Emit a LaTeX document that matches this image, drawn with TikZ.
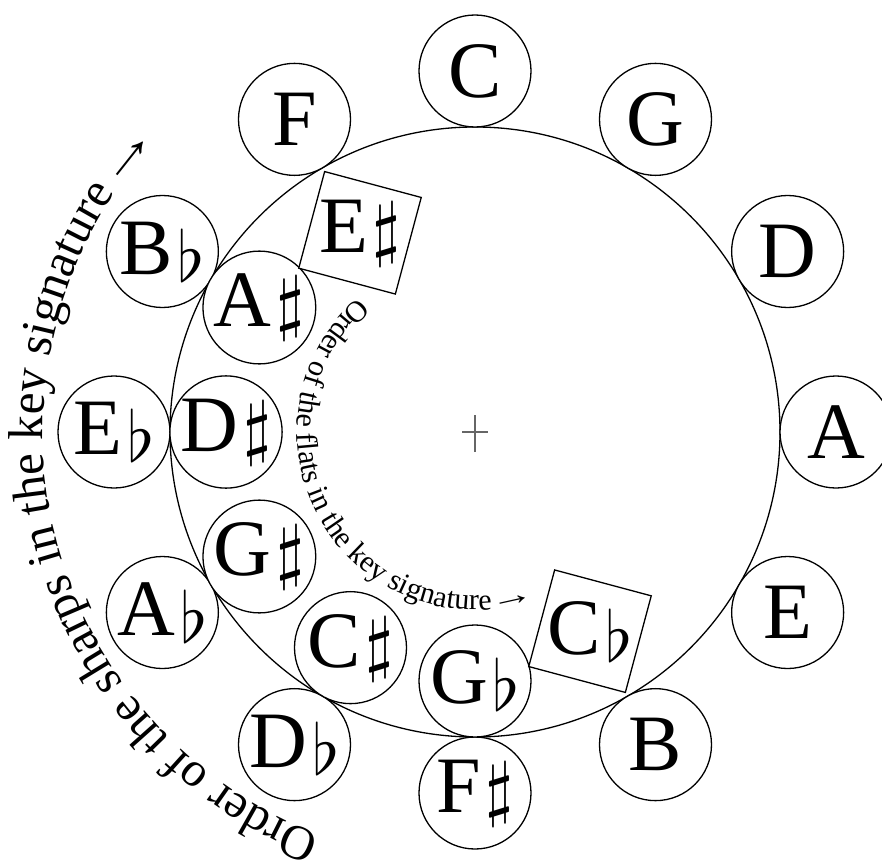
\documentclass[tikz,border=0pt]{standalone}
\usepackage{fontspec}
\setmainfont{Liberation Serif}
\usepackage{tikz}
\usetikzlibrary{decorations.text}

\newcommand{\acsharp}{\kern5pt{\fontsize{10}{12}\selectfont\scalebox{7.2}{$\sharp$}}}
\newcommand{\acflat}{\kern5pt\raisebox{-7pt}{\fontsize{10}{12}\selectfont\scalebox{7}{$\flat$}}}

\begin{document}
\begin{tikzpicture}[
  x=1pt, y=1pt,
  ring/.style={draw, circle, minimum size=610pt, inner sep=0pt, line width=1.3pt},
  note/.style={draw, circle, fill=white, minimum size=112pt, inner sep=0pt,
               line width=1.3pt, font=\fontsize{80}{96}\selectfont},
  keybox/.style={draw, rectangle, fill=white, minimum size=100pt, inner sep=0pt,
                 line width=1.3pt, rotate=-15, font=\fontsize{80}{96}\selectfont},
  arctext/.style={decorate, decoration={text along path, text={#1}}}
]
  \useasboundingbox (-475,-431) rectangle (407,432);

  \node[ring] (wheel) at (0,0) {};
  \coordinate (mid) at (0,0);
  \draw[black!60, line width=2.4pt] ([xshift=-13pt]mid) -- ([xshift=13pt]mid)
                                    ([yshift=-20pt]mid) -- ([yshift=17pt]mid);

  % outer ring: major keys
  \node[note] (c)   at (90:361)  {C};
  \node[note] (g)   at (60:361)  {G};
  \node[note] (d)   at (30:361)  {D};
  \node[note] (a)   at (0:361)   {A};
  \node[note] (e)   at (-30:361) {E};
  \node[note] (b)   at (-60:361) {B};
  \node[note] (fis) at (-90:361) {F\acsharp};
  \node[note] (des) at (-120:361) {D\acflat};
  \node[note] (aes) at (-150:361) {A\acflat};
  \node[note] (ees) at (180:361) {E\acflat};
  \node[note] (bes) at (150:361) {B\acflat};
  \node[note] (f)   at (120:361) {F};

  % inner ring: enharmonic spellings
  \node[note] (ais) at (150:249) {A\acsharp};
  \node[note] (dis) at (180:249) {D\acsharp};
  \node[note] (gis) at (210:249) {G\acsharp};
  \node[note] (cis) at (240:249) {C\acsharp};
  \node[note] (ges) at (270:249) {G\acflat};
  \node[keybox] (eis) at (120:230) {\rotatebox{15}{E\acsharp}};
  \node[keybox] (ces) at (-60:230) {\rotatebox{15}{C\acflat}};

  \path[arctext={|\fontsize{49}{58}\selectfont|Order of the sharps in the key signature|\fontsize{49}{58}\selectfont\addfontfeature{FakeStretch=1.45}|→}]
    (249:432) arc[start angle=249, end angle=125, radius=432pt];
  \path[arctext={|\fontsize{30}{36}\selectfont|Order of the flats in the key signature|\fontsize{30}{36}\selectfont\addfontfeature{FakeStretch=1.45}|→}]
    (131:178) arc[start angle=131, end angle=305, radius=178pt];
\end{tikzpicture}
\end{document}
